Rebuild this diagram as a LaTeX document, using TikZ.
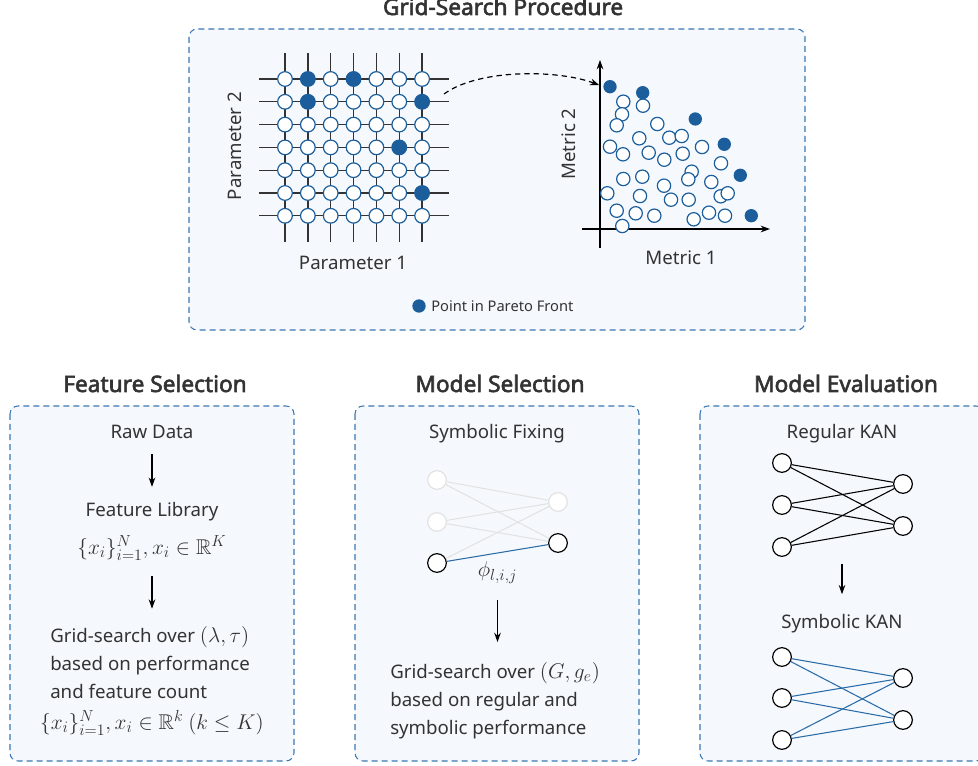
\documentclass[tikz,border=0pt]{standalone}
\usepackage{fix-cm}
\usepackage{fontspec}
\usepackage{amssymb}
\setmainfont{Noto Sans}
\newfontfamily\titlefont{Noto Sans}[AutoFakeBold=2.6]
\DeclareMathSizes{14}{16}{12}{9}
\usetikzlibrary{arrows.meta}

\definecolor{paretoblue}{HTML}{1B5E9B}
\definecolor{panelblue}{HTML}{3A77B4}
\definecolor{panelfill}{HTML}{F5F9FD}
\definecolor{inkgray}{HTML}{333333}
\definecolor{fadedgray}{HTML}{E2E2E2}
\definecolor{edgeblue}{HTML}{2B6CA8}

\tikzset{
  panel/.style={draw=panelblue, fill=panelfill, line width=0.8pt, dash pattern=on 4.5pt off 3pt, rounded corners=6pt},
  paneltitle/.style={font=\titlefont\fontsize{17}{20}\selectfont\bfseries, text=inkgray, anchor=base, inner sep=0pt},
  bodytext/.style={font=\fontsize{14}{21}\selectfont, text=inkgray, inner sep=0pt},
  gridline/.style={line width=1pt, inkgray},
  gridpt/.style={circle, draw=paretoblue, fill=white, line width=0.9pt, minimum size=11pt, inner sep=0pt},
  paretopt/.style={circle, fill=paretoblue, minimum size=11pt, inner sep=0pt},
  scatterpt/.style={gridpt, minimum size=10pt},
  frontpt/.style={paretopt, minimum size=10pt},
  kannode/.style={circle, draw=black, fill=white, line width=0.9pt, minimum size=14pt, inner sep=0pt},
  fadednode/.style={kannode, draw=fadedgray},
  kanedge/.style={line width=0.8pt},
  flowarrow/.style={-{Stealth[length=7pt,width=5pt]}, line width=0.8pt, black},
}

\begin{document}
\begin{tikzpicture}[x=0.75pt, y=-0.75pt]
  \clip (0,0) rectangle (978,766);

  %% Grid-search panel
  \draw[panel] (189,29) rectangle (805,330);
  \node[paneltitle] (gridtitle) at (503,15) {Grid-Search Procedure};

  %% Parameter grid
  \foreach \i in {1,...,7} {
    \draw[gridline] ({285+22.85*(\i-1)},53) -- ({285+22.85*(\i-1)},242);
    \draw[gridline] (259,{79+22.8*(\i-1)}) -- (449,{79+22.8*(\i-1)});
  }
  \foreach \i in {1,...,7}
    \foreach \j in {1,...,7}
      \node[gridpt] (g\i\j) at ({285+22.85*(\i-1)},{79+22.8*(\j-1)}) {};
  \foreach \i/\j in {2/1,4/1,2/2,7/2,6/4,7/6}
    \node[paretopt] (pg\i\j) at (g\i\j) {};
  \node[bodytext, rotate=90] (param2) at (235,146) {Parameter 2};
  \node[bodytext] (param1) at (353,263) {Parameter 1};

  %% Metric plane
  \draw[flowarrow, line width=1pt] (582,229) -- (770,229);
  \draw[flowarrow, line width=1pt] (600,248) -- (600,60);
  \foreach \px/\py [count=\k] in {623.3/101.7, 643/105.7, 622/114.3, 616.7/125.3, 657.3/124,
      639.3/138.3, 669.3/137.7, 681.7/136, 610/146.7, 623/154.3, 648.7/152.7, 664.3/159.7,
      682.7/153.7, 702/147, 721/163.3, 623.3/179, 642.3/176.7, 691.7/171.7, 688.3/179.3,
      711.3/182, 664/185.7, 607.3/193.3, 640/196, 671/199.7, 688.7/199.7, 720.7/196.3,
      727.7/193.3, 616.7/210.7, 635.7/213.3, 654.3/215.7, 693.7/219.3, 709/212.7,
      725/215.7, 622.3/226}
    \node[scatterpt] (sp\k) at (\px,\py) {};
  \foreach \px/\py [count=\k] in {610/86.7, 642.7/92.7, 695.3/119, 724.3/144.3, 740.3/175.3, 751.3/215.7}
    \node[frontpt] (p\k) at (\px,\py) {};
  \node[bodytext, rotate=90] (metric2) at (569,144) {Metric 2};
  \node[bodytext] (metric1) at (681,258) {Metric 1};

  %% Grid to front
  \coordinate (curvestart) at (444,94);
  \draw[-{Stealth[length=7pt,width=5pt]}, line width=0.9pt, dash pattern=on 4pt off 3pt, shorten >=3pt]
    (curvestart) .. controls (480,68) and (560,70) .. (p1.west);

  %% Legend
  \node[frontpt] (legenddot) at (419,306) {};
  \node[bodytext, font=\fontsize{11}{13}\selectfont, anchor=west] (legendtext) at (431,306) {Point in Pareto Front};

  %% Lower panels
  \draw[panel] (10,406) rectangle (294,761);
  \draw[panel] (355,406) rectangle (639,761);
  \draw[panel] (700,406) rectangle (984,761);
  \node[paneltitle] (feattitle) at (155,392) {Feature Selection};
  \node[paneltitle] (modeltitle) at (500,392) {Model Selection};
  \node[paneltitle] (evaltitle) at (846,392) {Model Evaluation};

  %% Feature selection
  \node[bodytext, anchor=base] (rawdata) at (152,438) {Raw Data};
  \node[bodytext, anchor=base] (featlib) at (152,516) {Feature Library};
  \node[bodytext, anchor=base] (featset) at (152,554) {$\{x_i\}_{i=1}^{N}, x_i \in \mathbb{R}^K$};
  \node[bodytext, anchor=north west, align=left] (gridfeat) at (50,626)
    {Grid-search over $(\lambda,\tau)$\\based on performance\\and feature count};
  \node[bodytext, anchor=base] (featsel) at (152,729) {$\{x_i\}_{i=1}^{N}, x_i \in \mathbb{R}^k\ (k \le K)$};
  \draw[flowarrow, shorten <=12pt, shorten >=11pt] (rawdata.south) -- (featlib.north);
  \draw[flowarrow, shorten <=12pt, shorten >=13pt] (featset.south) -- (featset.south |- gridfeat.north);

  %% Model selection
  \node[bodytext, anchor=base] (symfix) at (497,438) {Symbolic Fixing};
  \node[fadednode] (ma) at (437,480) {};
  \node[fadednode] (mb) at (437,522) {};
  \node[kannode] (mc) at (437,563) {};
  \node[fadednode] (md) at (558,502) {};
  \node[kannode] (me) at (558,543) {};
  \foreach \a/\b in {ma/md, ma/me, mb/md, mb/me, mc/md}
    \draw[kanedge, fadedgray] (\a) -- (\b);
  \draw[kanedge, edgeblue] (mc) -- (me)
    node[bodytext, midway, yshift=-15pt] (phi) {$\phi_{l,i,j}$};
  \node[bodytext, anchor=north west, align=left] (gridmodel) at (390,662)
    {Grid-search over $(G, g_e)$\\based on regular and\\symbolic performance};
  \draw[flowarrow, shorten <=12pt, shorten >=15pt] (phi.south) -- (phi.south |- gridmodel.north);

  %% Model evaluation
  \node[bodytext, anchor=base] (regkan) at (842,438) {Regular KAN};
  \foreach \n/\y in {1/463, 2/505, 3/547}
    \node[kannode] (r\n) at (782,\y) {};
  \foreach \n/\y in {4/484, 5/526}
    \node[kannode] (r\n) at (903,\y) {};
  \foreach \a in {1,2,3}
    \foreach \b in {4,5}
      \draw[kanedge] (r\a) -- (r\b);
  \node[bodytext, anchor=base] (symkan) at (842,628) {Symbolic KAN};
  \foreach \n/\y in {1/657, 2/698, 3/740}
    \node[kannode] (s\n) at (782,\y) {};
  \foreach \n/\y in {4/678, 5/720}
    \node[kannode] (s\n) at (903,\y) {};
  \foreach \a in {1,2,3}
    \foreach \b in {4,5}
      \draw[kanedge, edgeblue] (s\a) -- (s\b);
  \draw[flowarrow, shorten <=5pt, shorten >=14.5pt] (regkan.south |- r3.south) -- (symkan.north);
\end{tikzpicture}
\end{document}
